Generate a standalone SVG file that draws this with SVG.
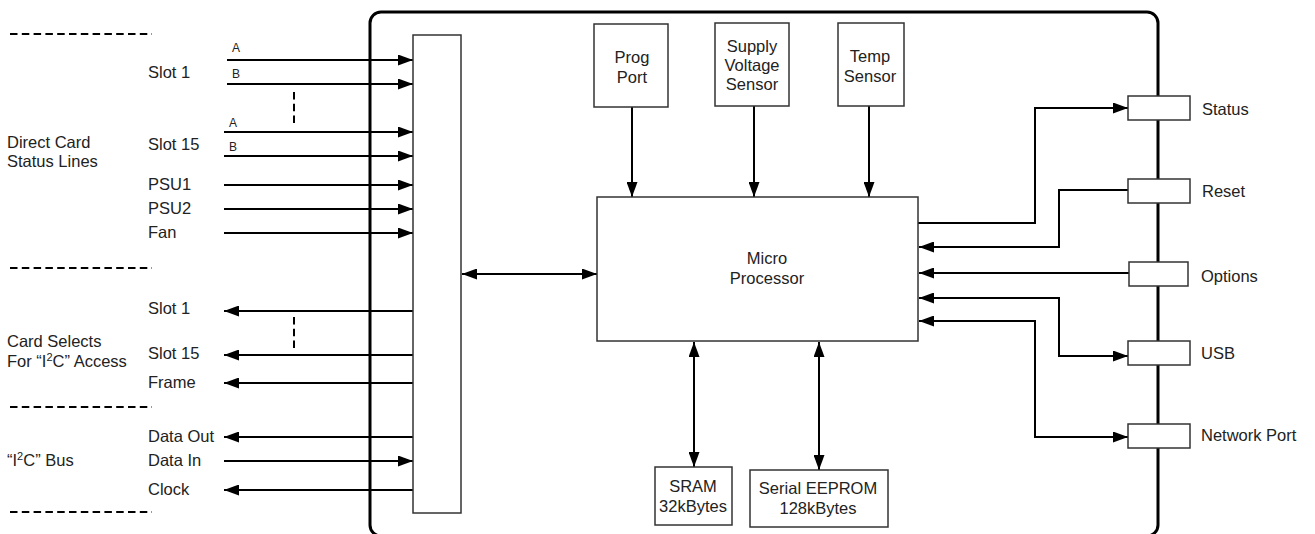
<svg xmlns="http://www.w3.org/2000/svg" width="1315" height="534" viewBox="0 0 1315 534">
<defs>
<marker id="ah" markerUnits="userSpaceOnUse" markerWidth="16" markerHeight="11" refX="15" refY="5.5" orient="auto-start-reverse">
<path d="M0,0 L15,5.5 L0,11 z" fill="#000"/>
</marker>
<style>
text{font-family:"Liberation Sans",Arial,sans-serif;font-size:16.5px;fill:#222}
.c{text-anchor:middle}
.s{font-size:12px}
.box{fill:#fff;stroke:#333;stroke-width:1.5}
.ln{fill:none;stroke:#000;stroke-width:2}
.a{marker-end:url(#ah)}
.b{marker-start:url(#ah);marker-end:url(#ah)}
.dash{fill:none;stroke:#000;stroke-width:2;stroke-dasharray:7.5 4.3}
</style>
</defs>
<rect id="frame" x="370" y="12" width="788" height="524" rx="11" fill="none" stroke="#000" stroke-width="3"/>

<g id="separators">
<line class="dash" x1="10" y1="34" x2="152" y2="34"/>
<line class="dash" x1="10" y1="268" x2="152" y2="268"/>
<line class="dash" x1="10" y1="407" x2="152" y2="407"/>
<line class="dash" x1="10" y1="512" x2="152" y2="512"/>
<line class="dash" x1="294" y1="92" x2="294" y2="124" stroke-dasharray="7 5"/>
<line class="dash" x1="294" y1="317" x2="294" y2="349" stroke-dasharray="7 5"/>
</g>

<g id="left-labels">
<text x="7" y="148">Direct Card</text>
<text x="7" y="167">Status Lines</text>
<text x="148" y="78">Slot 1</text>
<text class="s" x="232" y="52">A</text>
<text class="s" x="232" y="78">B</text>
<text x="148" y="150">Slot 15</text>
<text class="s" x="229" y="127">A</text>
<text class="s" x="229" y="151">B</text>
<text x="148" y="190">PSU1</text>
<text x="148" y="214">PSU2</text>
<text x="148" y="238">Fan</text>
<text x="7" y="347">Card Selects</text>
<text x="7" y="367">For “I<tspan font-size="11" dy="-6">2</tspan><tspan dy="6">C” Access</tspan></text>
<text x="148" y="314">Slot 1</text>
<text x="148" y="359">Slot 15</text>
<text x="148" y="388">Frame</text>
<text x="7" y="466">“I<tspan font-size="11" dy="-6">2</tspan><tspan dy="6">C” Bus</tspan></text>
<text x="148" y="442">Data Out</text>
<text x="148" y="466">Data In</text>
<text x="148" y="495">Clock</text>
</g>

<g id="connectors">
<line class="ln a" x1="227" y1="60" x2="413" y2="60"/>
<line class="ln a" x1="227" y1="84" x2="413" y2="84"/>
<line class="ln a" x1="224" y1="132" x2="413" y2="132"/>
<line class="ln a" x1="224" y1="156" x2="413" y2="156"/>
<line class="ln a" x1="224" y1="185" x2="413" y2="185"/>
<line class="ln a" x1="224" y1="209" x2="413" y2="209"/>
<line class="ln a" x1="224" y1="233" x2="413" y2="233"/>
<line class="ln a" x1="413" y1="311" x2="224" y2="311"/>
<line class="ln a" x1="413" y1="355" x2="224" y2="355"/>
<line class="ln a" x1="413" y1="383" x2="224" y2="383"/>
<line class="ln a" x1="413" y1="437" x2="224" y2="437"/>
<line class="ln a" x1="224" y1="461" x2="413" y2="461"/>
<line class="ln a" x1="413" y1="490" x2="224" y2="490"/>
<line class="ln b" x1="462" y1="274" x2="597" y2="274"/>
<line class="ln a" x1="632" y1="107" x2="632" y2="197"/>
<line class="ln a" x1="754" y1="106" x2="754" y2="197"/>
<line class="ln a" x1="869" y1="106" x2="869" y2="197"/>
<line class="ln b" x1="694" y1="342" x2="694" y2="467"/>
<line class="ln b" x1="819" y1="342" x2="819" y2="470"/>
<polyline class="ln a" points="918,223 1035,223 1035,108 1128,108"/>
<polyline class="ln a" points="1128,190 1059,190 1059,247 919,247"/>
<line class="ln a" x1="1129" y1="273" x2="919" y2="273"/>
<polyline class="ln b" points="919,298 1059,298 1059,356 1128,356"/>
<polyline class="ln b" points="919,321 1035,321 1035,437 1128,437"/>
</g>

<g id="interface"><rect class="box" x="413" y="35" width="48" height="478"/></g>

<g id="prog-port"><rect class="box" x="594" y="24" width="74" height="83"/>
<text class="c" x="632" y="63">Prog</text><text class="c" x="632" y="83">Port</text></g>
<g id="supply-voltage-sensor"><rect class="box" x="715" y="23" width="74" height="83"/>
<text class="c" x="752" y="52">Supply</text><text class="c" x="752" y="71">Voltage</text><text class="c" x="752" y="90">Sensor</text></g>
<g id="temp-sensor"><rect class="box" x="838" y="23" width="66" height="83"/>
<text class="c" x="870" y="62">Temp</text><text class="c" x="870" y="82">Sensor</text></g>

<g id="micro"><rect class="box" x="597" y="197" width="321" height="144"/>
<text class="c" x="767" y="264">Micro</text><text class="c" x="767" y="284">Processor</text></g>

<g id="sram"><rect class="box" x="655" y="467" width="77" height="58"/>
<text class="c" x="693" y="492">SRAM</text><text class="c" x="693" y="512">32kBytes</text></g>
<g id="eeprom"><rect class="box" x="750" y="470" width="138" height="57"/>
<text class="c" x="818" y="494">Serial EEPROM</text><text class="c" x="818" y="514">128kBytes</text></g>

<g id="status"><rect class="box" x="1128" y="96" width="62" height="24"/><text x="1202" y="115">Status</text></g>
<g id="reset"><rect class="box" x="1128" y="179" width="62" height="24"/><text x="1202" y="197">Reset</text></g>
<g id="options"><rect class="box" x="1129" y="262" width="59" height="24"/><text x="1201" y="282">Options</text></g>
<g id="usb"><rect class="box" x="1128" y="341" width="62" height="24"/><text x="1201" y="359">USB</text></g>
<g id="network-port"><rect class="box" x="1128" y="424" width="62" height="24"/><text x="1201" y="441">Network Port</text></g>
</svg>
